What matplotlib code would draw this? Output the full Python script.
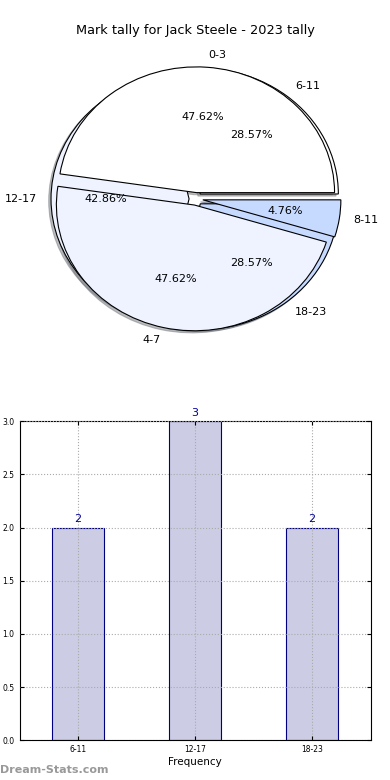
import matplotlib
matplotlib.use("Agg")
import matplotlib.pyplot as plt
import numpy as np

# 两个叠在一起的饼图 + 下方柱状图
pie1_labels = ["0-3", "4-7", "8-11"]
pie1_values = [10, 10, 1]
pie2_labels = ["6-11", "12-17", "18-23"]
pie2_values = [2, 3, 2]

bar_labels = ["6-11", "12-17", "18-23"]
bar_values = [2, 3, 2]

PIE_COLORS = ["#ffffff", "#eef3ff", "#c6d9ff"]

plt.rcParams.update({
    "font.family": "DejaVu Sans",
    "font.size": 8,
})

fig = plt.figure(figsize=(3.9, 7.8), dpi=100)
fig.text(0.5, 0.961, "Mark tally for Jack Steele - 2023 tally",
         ha="center", va="center", fontsize=9.3)

# --------------------------- 饼图 ---------------------------
ax1 = fig.add_axes([0.06, 0.5435, 0.885, 0.403])
for labels, vals in ((pie2_labels, pie2_values), (pie1_labels, pie1_values)):
    ax1.pie(vals, labels=labels, autopct="%.2f%%", colors=PIE_COLORS,
            explode=[0.05] * len(vals),
            shadow={"ox": -0.012, "oy": -0.012, "shade": 0.5},
            startangle=0,
            wedgeprops={"edgecolor": "black", "linewidth": 0.8},
            textprops={"fontsize": 8})
ax1.set_aspect("auto")
ax1.set_xlim(-1.25, 1.25)
ax1.set_ylim(-1.25, 1.25)

# --------------------------- 柱状图 ---------------------------
ax2 = fig.add_axes([0.05, 0.051, 0.9, 0.409])
x = np.arange(len(bar_values))
bars = ax2.bar(x, bar_values, 0.45, color="#ccccE4", edgecolor="#000080",
               linewidth=0.8, zorder=1)
for b, v in zip(bars, bar_values):
    ax2.text(b.get_x() + b.get_width() / 2, v + 0.03, f"{v}",
             ha="center", va="bottom", color="#000099", fontsize=8)
ax2.set_xlim(-0.5, 2.5)
ax2.set_ylim(0, 3.0)
ax2.set_xticks(x)
ax2.set_xticklabels(bar_labels)
ax2.set_yticks(np.arange(0, 3.01, 0.5))
ax2.tick_params(labelsize=5.5, direction="in", top=True, right=True, length=3)
ax2.grid(True, ls=":", color="#aaaaaa", lw=0.8, zorder=0)
ax2.set_axisbelow(False)
ax2.set_xlabel("Frequency", fontsize=7.5, labelpad=2)

fig.text(0.0, 0.013, "Dream-Stats.com", ha="left", va="center",
         fontsize=8, color="#999999", fontweight="bold")

plt.savefig("out.png", dpi=100)
